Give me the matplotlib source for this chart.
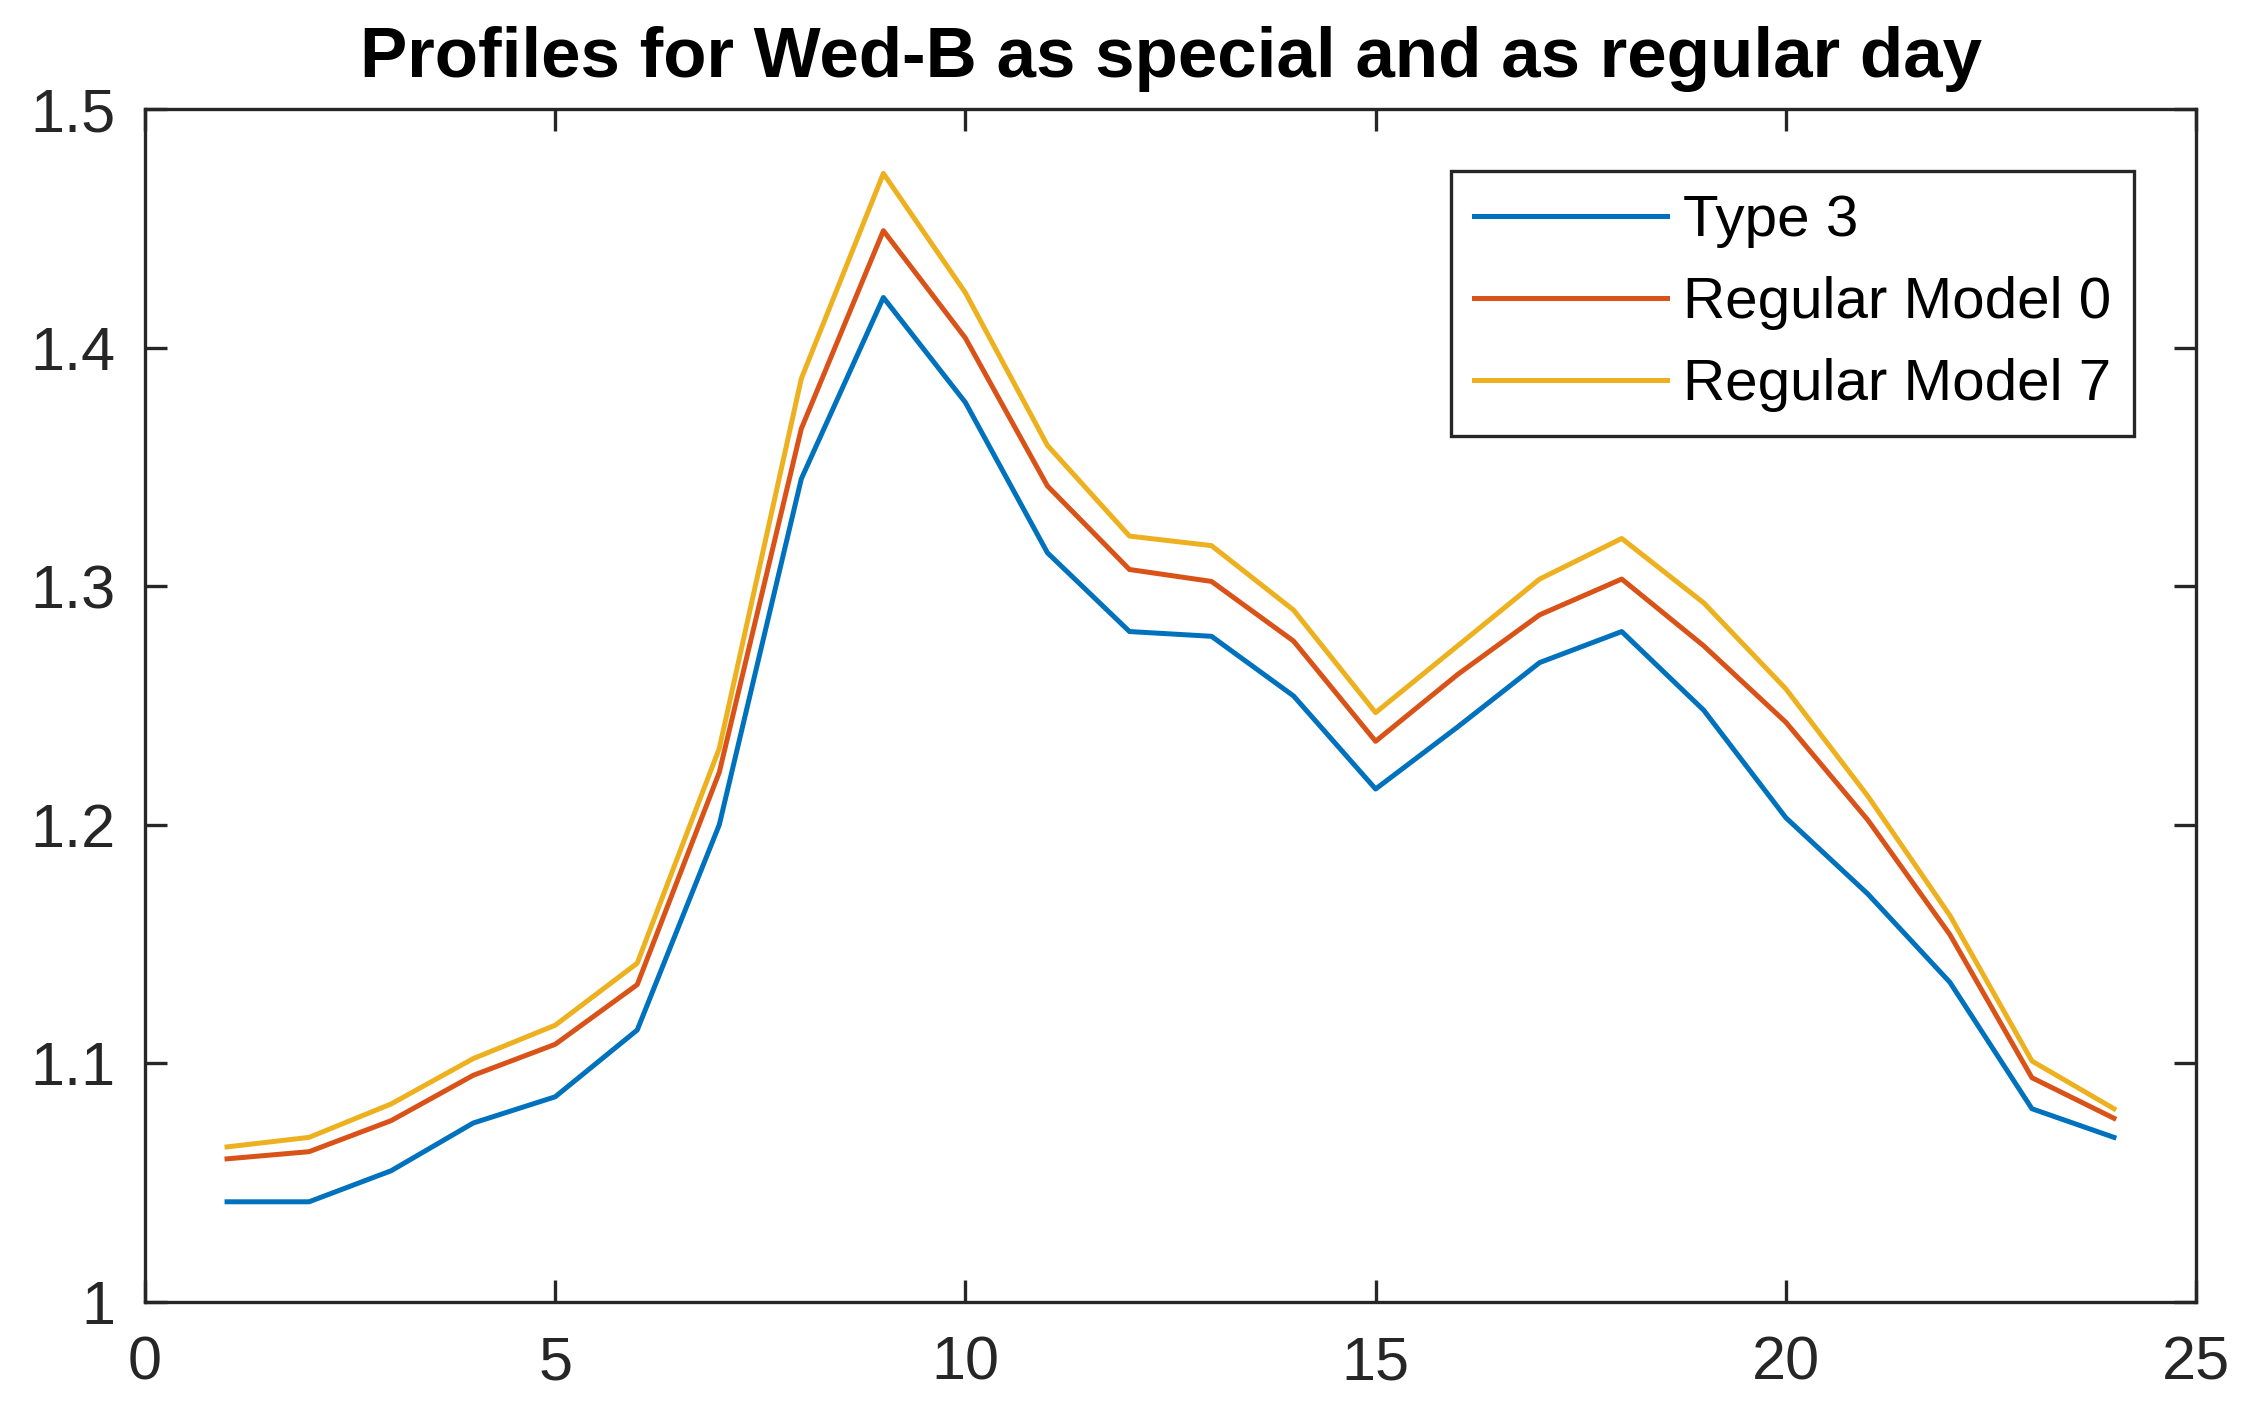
import numpy as np
import matplotlib.pyplot as plt

plt.rcParams['font.family'] = ['Liberation Sans', 'DejaVu Sans']

# Datos
hours = np.arange(1, 25)
type3 = [1.042, 1.042, 1.055, 1.075, 1.086, 1.114, 1.200, 1.345, 1.421, 1.377,
         1.314, 1.281, 1.279, 1.254, 1.215, 1.241, 1.268, 1.281, 1.248, 1.203,
         1.171, 1.134, 1.081, 1.069]
model0 = [1.060, 1.063, 1.076, 1.095, 1.108, 1.133, 1.222, 1.366, 1.449, 1.404,
          1.342, 1.307, 1.302, 1.277, 1.235, 1.263, 1.288, 1.303, 1.275, 1.243,
          1.202, 1.154, 1.094, 1.077]
model7 = [1.065, 1.069, 1.083, 1.102, 1.116, 1.142, 1.232, 1.387, 1.473, 1.423,
          1.359, 1.321, 1.317, 1.290, 1.247, 1.275, 1.303, 1.320, 1.293, 1.257,
          1.212, 1.162, 1.101, 1.081]

labels = ["Type 3", "Regular Model 0", "Regular Model 7"]
colors = [(0, 0.447, 0.741), (0.85, 0.325, 0.098), (0.929, 0.694, 0.125)]

fig = plt.figure(figsize=(22.57, 14.25), dpi=100)
ax = fig.add_axes([145 / 2257, 1 - 1302 / 1425, 2051 / 2257, 1193 / 1425])

for serie, lab, col in zip([type3, model0, model7], labels, colors):
    ax.plot(hours, serie, color=col, lw=3.6, label=lab)

ax.set_xlim(0, 25)
ax.set_ylim(1, 1.5)
ax.set_xticks([0, 5, 10, 15, 20, 25])
ax.set_yticks([1, 1.1, 1.2, 1.3, 1.4, 1.5])
ax.set_yticklabels(["1", "1.1", "1.2", "1.3", "1.4", "1.5"])
ax.tick_params(direction='in', length=16, width=2.4, top=True, right=True,
               labelsize=44, colors='#262626')
ax.tick_params(axis='x', pad=24)
ax.tick_params(axis='y', pad=21)
for s in ax.spines.values():
    s.set_linewidth(2.4)
    s.set_color('#262626')

ax.set_title("Profiles for Wed-B as special and as regular day",
             fontsize=51, fontweight='bold', pad=23)

leg = ax.legend(loc='upper right', bbox_to_anchor=(0.970, 0.948), fontsize=42,
                handlelength=3.3, labelspacing=0.48, borderpad=0.4,
                handletextpad=0.28, borderaxespad=0, fancybox=False, framealpha=1)
leg.get_frame().set_edgecolor('#262626')
leg.get_frame().set_linewidth(2.4)

fig.savefig("out.png", dpi=100)
